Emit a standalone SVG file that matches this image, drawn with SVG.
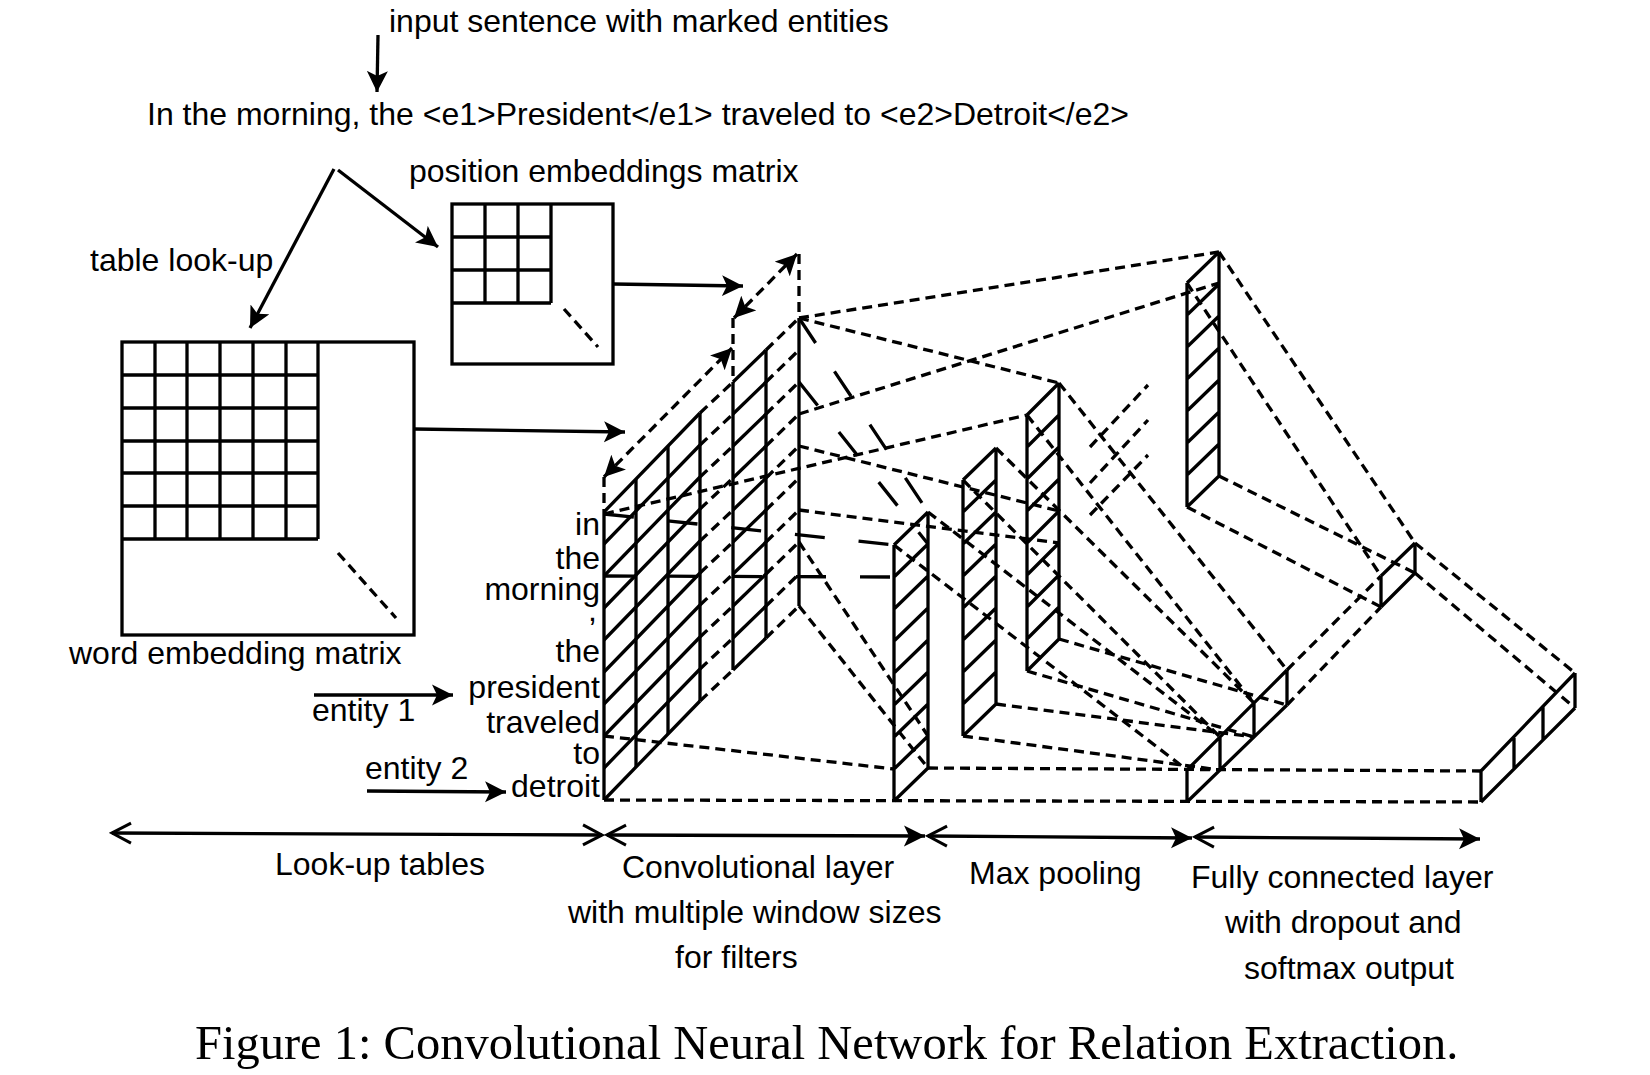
<svg xmlns="http://www.w3.org/2000/svg" width="1650" height="1075" viewBox="0 0 1650 1075">
<defs>
<style>
.s{stroke:#000;stroke-width:3.3;fill:none}
.d{stroke:#000;stroke-width:3.3;fill:none;stroke-dasharray:10 6}
.ld{stroke:#000;stroke-width:3.3;fill:none;stroke-dasharray:30 34}
.t{font-family:"Liberation Sans",Arial,sans-serif;font-size:32px;fill:#000}
.w{font-family:"Liberation Sans",Arial,sans-serif;font-size:32px;fill:#000;text-anchor:end}
.cap{font-family:"Liberation Serif","Times New Roman",serif;font-size:48.5px;fill:#000}
</style>
<marker id="ah" markerUnits="userSpaceOnUse" viewBox="0 -11 22 22" markerWidth="22" markerHeight="22" refX="21" refY="0" orient="auto-start-reverse">
<path d="M0,-10.5 L21,0 L0,10.5 L5,0 z" fill="#000"/>
</marker>
<marker id="oc" markerUnits="userSpaceOnUse" viewBox="-2 -12 24 24" markerWidth="24" markerHeight="24" refX="19" refY="0" orient="auto-start-reverse">
<path d="M0,-10 L19,0 L0,10" fill="none" stroke="#000" stroke-width="3"/>
</marker>
</defs>
<rect width="1650" height="1075" fill="#fff"/>

<g id="connectors">
  <!-- solid arrows -->
  <line class="s" x1="378" y1="35" x2="377" y2="92" marker-end="url(#ah)"/>
  <line class="s" x1="334" y1="169" x2="250" y2="328" marker-end="url(#ah)"/>
  <line class="s" x1="338" y1="170" x2="438" y2="247" marker-end="url(#ah)"/>
  <line class="s" x1="613" y1="284" x2="743" y2="286" marker-end="url(#ah)"/>
  <line class="s" x1="414" y1="429" x2="625" y2="432" marker-end="url(#ah)"/>
  <line class="s" x1="314" y1="695" x2="453" y2="695" marker-end="url(#ah)"/>
  <line class="s" x1="367" y1="791" x2="506" y2="792" marker-end="url(#ah)"/>
  <!-- section double arrows -->
  <line class="s" x1="112" y1="833" x2="602" y2="835" marker-start="url(#oc)" marker-end="url(#oc)"/>
  <line class="s" x1="607" y1="835" x2="925" y2="836" marker-start="url(#oc)" marker-end="url(#ah)"/>
  <line class="s" x1="928" y1="836" x2="1192" y2="838" marker-start="url(#oc)" marker-end="url(#ah)"/>
  <line class="s" x1="1195" y1="837" x2="1480" y2="839" marker-start="url(#oc)" marker-end="url(#ah)"/>
  <!-- dimension double arrows (dashed) -->
  <line class="d" x1="604" y1="477" x2="732" y2="348" marker-start="url(#ah)" marker-end="url(#ah)"/>
  <line class="d" x1="734" y1="318" x2="797" y2="254" marker-start="url(#ah)" marker-end="url(#ah)"/>
  <path class="d" d="M604,477 L604,512 M733,318 L733,382 M799,254 L799,318"/>
  <!-- filter window lines (long dash) -->
  <path class="ld" d="M604,514 L894,545"/>
  <path class="ld" d="M604,576 L894,577"/>
  <path class="ld" d="M799,318 L928,512"/>
  <path class="ld" d="M799,382 L928,544"/>
  <!-- filter window lines (short dash) -->
  <path class="d" d="M604,736 L894,769"/>
  <path class="d" d="M799,542 L928,736"/>
  <path class="d" d="M799,606 L928,768"/>
  <path class="d" d="M604,800 L1481,802"/>
  <path class="d" d="M928,768 L1481,771"/>
  <!-- input to other feature maps / hidden layer -->
  <path class="d" d="M799,318 L1219,252"/>
  <path class="d" d="M799,414 L1219,283"/>
  <path class="d" d="M799,318 L1059,383"/>
  <path class="d" d="M604,514 L1027,415"/>
  <path class="d" d="M799,446 L1059,511"/>
  <path class="d" d="M799,510 L1059,543"/>
  <!-- ellipsis of further feature maps -->
  <path class="d" d="M1090,447 L1148,385 M1090,483 L1148,420 M1090,515 L1148,455"/>
  <!-- feature maps to pooled vector -->
  <path class="d" d="M894,545 L1187,770 M928,512 L1220,737"/>
  <path class="d" d="M963,480 L1220,737 M996,448 L1254,703 M963,736 L1220,770 M996,704 L1254,737"/>
  <path class="d" d="M1027,415 L1254,703 M1059,383 L1287,670 M1027,671 L1254,737 M1059,639 L1287,705"/>
  <!-- pooled vector / hidden layer to dropout unit -->
  <path class="d" d="M1287,670 L1381,576 M1287,705 L1381,607"/>
  <path class="d" d="M1219,252 L1415,543 M1187,283 L1381,576 M1219,476 L1415,573 M1187,507 L1381,607"/>
  <!-- dropout unit to output -->
  <path class="d" d="M1415,543 L1575,673 M1415,573 L1575,708"/>
</g>

<g id="input-sentence">
  <text class="t" x="389" y="32">input sentence with marked entities</text>
  <text class="t" x="147" y="125">In the morning, the &lt;e1&gt;President&lt;/e1&gt; traveled to &lt;e2&gt;Detroit&lt;/e2&gt;</text>
  <text class="t" x="90" y="271">table look-up</text>
</g>

<g id="position-embeddings-matrix">
  <text class="t" x="409" y="182">position embeddings matrix</text>
  <rect class="s" x="452" y="204" width="161" height="160"/>
  <path class="s" d="M485,204 V303 M518,204 V303 M551,204 V303 M452,237 H551 M452,270 H551 M452,303 H551"/>
  <path class="d" d="M564,309 L598,347"/>
</g>

<g id="word-embedding-matrix">
  <rect class="s" x="122" y="342" width="292" height="293"/>
  <path class="s" d="M155,342 V539 M187,342 V539 M220,342 V539 M253,342 V539 M286,342 V539 M318,342 V539 M122,375 H318 M122,408 H318 M122,441 H318 M122,473 H318 M122,506 H318 M122,539 H318"/>
  <path class="d" d="M338,553 L396,618"/>
  <text class="t" x="69" y="664">word embedding matrix</text>
</g>

<g id="entity-labels">
  <text class="t" x="312" y="721">entity 1</text>
  <text class="t" x="365" y="779">entity 2</text>
</g>

<g id="word-labels">
  <text class="w" x="600" y="535">in</text>
  <text class="w" x="600" y="569">the</text>
  <text class="w" x="600" y="600">morning</text>
  <text class="w" x="597" y="621">,</text>
  <text class="w" x="600" y="662">the</text>
  <text class="w" x="600" y="698">president</text>
  <text class="w" x="600" y="733">traveled</text>
  <text class="w" x="600" y="764">to</text>
  <text class="w" x="600" y="797">detroit</text>
</g>

<g id="input-tensor">
  <path class="s" d="M604,512 V800 M636,479 V767 M668,446 V734 M700,413 V701 M733,382 V670 M766,350 V638 M799,318 V606"/>
  <path class="s" d="M604,512 L700,413 M733,382 L766,350 M604,544 L700,445 M733,414 L766,382 M604,576 L700,477 M733,446 L766,414 M604,608 L700,509 M733,478 L766,446 M604,640 L700,541 M733,510 L766,478 M604,672 L700,573 M733,542 L766,510 M604,704 L700,605 M733,574 L766,542 M604,736 L700,637 M733,606 L766,574 M604,768 L700,669 M733,638 L766,606 M604,800 L700,701 M733,670 L766,638"/>
  <path class="d" d="M700,413 L733,382 M766,350 L799,318 M700,445 L733,414 M766,382 L799,350 M700,477 L733,446 M766,414 L799,382 M700,509 L733,478 M766,446 L799,414 M700,541 L733,510 M766,478 L799,446 M700,573 L733,542 M766,510 L799,478 M700,605 L733,574 M766,542 L799,510 M700,637 L733,606 M766,574 L799,542 M700,669 L733,638 M766,606 L799,574 M700,701 L733,670 M766,638 L799,606"/>
</g>

<g id="conv-feature-map">
  <path class="s" d="M894,545 V801 M928,512 V768 M894,545 L928,512 M894,577 L928,544 M894,609 L928,576 M894,641 L928,608 M894,673 L928,640 M894,705 L928,672 M894,737 L928,704 M894,769 L928,736 M894,801 L928,768"/>
</g>

<g id="feature-map-2">
  <path class="s" d="M963,480 V736 M996,448 V704 M963,480 L996,448 M963,512 L996,480 M963,544 L996,512 M963,576 L996,544 M963,608 L996,576 M963,640 L996,608 M963,672 L996,640 M963,704 L996,672 M963,736 L996,704"/>
</g>

<g id="feature-map-3">
  <path class="s" d="M1027,415 V671 M1059,383 V639 M1027,415 L1059,383 M1027,447 L1059,415 M1027,479 L1059,447 M1027,511 L1059,479 M1027,543 L1059,511 M1027,575 L1059,543 M1027,607 L1059,575 M1027,639 L1059,607 M1027,671 L1059,639"/>
</g>

<g id="hidden-layer">
  <path class="s" d="M1187,283 V507 M1219,252 V476 M1187,283 L1219,252 M1187,315 L1219,284 M1187,347 L1219,316 M1187,379 L1219,348 M1187,411 L1219,380 M1187,443 L1219,412 M1187,475 L1219,444 M1187,507 L1219,476"/>
</g>

<g id="pooled-vector">
  <path class="s" d="M1187,770 L1287,670 M1187,802 L1287,705 M1187,770 V802 M1220,737 V770 M1254,703 V737 M1287,670 V705"/>
</g>

<g id="dropout-unit">
  <path class="s" d="M1381,576 V607 M1415,543 V573 M1381,576 L1415,543 M1381,607 L1415,573"/>
</g>

<g id="output-layer">
  <path class="s" d="M1481,771 V802 M1575,673 V708 M1481,771 L1575,673 M1481,802 L1575,708 M1514,738 V769 M1543,707 V740"/>
</g>

<g id="section-labels">
  <text class="t" x="275" y="875">Look-up tables</text>
  <text class="t" x="622" y="878">Convolutional layer</text>
  <text class="t" x="568" y="923">with multiple window sizes</text>
  <text class="t" x="675" y="968">for filters</text>
  <text class="t" x="969" y="884">Max pooling</text>
  <text class="t" x="1191" y="888">Fully connected layer</text>
  <text class="t" x="1225" y="933">with dropout and</text>
  <text class="t" x="1244" y="979">softmax output</text>
</g>

<g id="caption">
  <text class="cap" x="195" y="1059">Figure 1: Convolutional Neural Network for Relation Extraction.</text>
</g>
</svg>
